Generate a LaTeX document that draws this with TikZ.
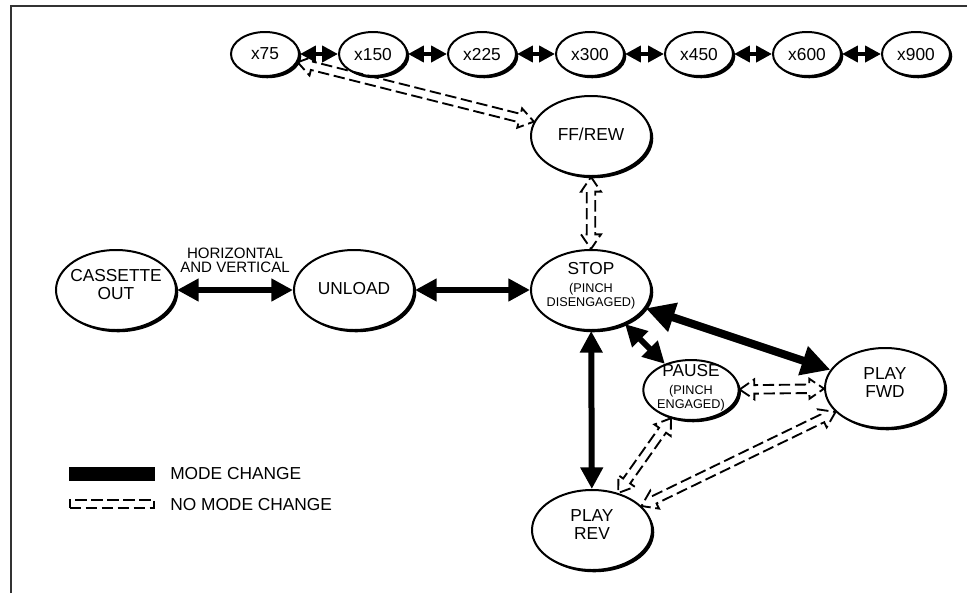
\documentclass[tikz,border=0pt]{standalone}
\usepackage{fontspec}
\setmainfont{Liberation Sans}
\usetikzlibrary{shapes.geometric,arrows.meta,calc,shadows}

\newcommand{\bigf}{\fontsize{13}{13.5}\selectfont}
\newcommand{\smallf}{\fontsize{9.5}{10.5}\selectfont}

% 破線の二重矢印
\newcommand{\dashlink}[2]{%
  \path (#1) -- (#2) coordinate[pos=0] (ds) coordinate[pos=1] (de);
  \draw [nochange] (ds)
    -- ($(ds)!11pt!(de)!7.5pt!90:(de)$) -- ($(ds)!11pt!(de)!3.2pt!90:(de)$)
    -- ($(de)!11pt!(ds)!3.2pt!-90:(ds)$) -- ($(de)!11pt!(ds)!7.5pt!-90:(ds)$)
    -- (de)
    -- ($(de)!11pt!(ds)!7.5pt!90:(ds)$) -- ($(de)!11pt!(ds)!3.2pt!90:(ds)$)
    -- ($(ds)!11pt!(de)!3.2pt!-90:(de)$) -- ($(ds)!11pt!(de)!7.5pt!-90:(de)$)
    -- cycle;
}

\tikzset{
  state/.style={ellipse, draw, line width=1.5pt, fill=white, align=center, font=\bigf,
    inner xsep=-12pt, inner ysep=-4pt, minimum width=90pt, minimum height=60pt, text depth=8pt,
    general shadow={fill=black, shadow xshift=1.7pt, shadow yshift=-1.7pt}},
  speed/.style={state, minimum width=51pt, minimum height=33pt, text depth=0pt,
    general shadow={fill=black, shadow xshift=1pt, shadow yshift=-1pt}},
  change/.style={line width=4.5pt, >={Triangle[length=0pt 3.6, width=0pt 3.6]}, <->},
  nochange/.style={line width=1.4pt, dash pattern=on 8.5pt off 3.5pt, line join=miter},
}

\begin{document}
\begin{tikzpicture} [x=0.75pt, y=-0.75pt]
     \useasboundingbox (0,0) rectangle (967,593);

     % 枠
     \draw [line width=1.6pt, black!80] (11,593) -- (11,6) -- (967,6);

     % 速度
     \node [speed] (x75) at (265,54) {x75};
     \node [speed] (x150) at (373,54) {x150};
     \node [speed] (x225) at (482,54) {x225};
     \node [speed] (x300) at (590,54) {x300};
     \node [speed] (x450) at (699,54) {x450};
     \node [speed] (x600) at (807,54) {x600};
     \node [speed] (x900) at (916,54) {x900};

     % 状態
     \node [state, text depth=3pt] (ffrew) at (591,136) {FF/REW};
     \node [state] (cassette) at (116,290) {CASSETTE\\OUT};
     \node [state, text depth=3pt] (unload) at (354,290) {UNLOAD};
     \node [state] (stop) at (591,290) {STOP\\\smallf (PINCH\\[-3pt]\smallf DISENGAGED)};
     \node [state, minimum width=71.5pt, minimum height=45pt, text depth=6pt] (pause) at (691,390) {PAUSE\\\smallf (PINCH\\[-3pt]\smallf ENGAGED)};
     \node [state] (playfwd) at (885,388) {PLAY\\FWD};
     \node [state] (playrev) at (592,530) {PLAY\\REV};

     % モード変化
     \foreach \a/\b in {x75/x150, x150/x225, x225/x300, x300/x450, x450/x600, x600/x900}
       \draw [change, line width=3.3pt] (\a) -- (\b);
     \draw [change] (cassette) -- node [midway, above=11pt, inner sep=0pt, align=center, font=\fontsize{11.3}{10.5}\selectfont] (hvnote) {HORIZONTAL\\AND VERTICAL} (unload);
     \draw [change] (unload) -- (stop);
     \draw [change, line width=6pt] (stop) -- (playfwd);
     \draw [change] (stop) -- (pause);
     \draw [change] (stop) -- (playrev);

     % モード変化なし
     \dashlink{x75}{ffrew}
     \dashlink{ffrew}{stop}
     \dashlink{pause}{playfwd}
     \dashlink{pause}{playrev}
     \dashlink{playfwd}{playrev}

     % 凡例
     \node [fill=black, inner sep=0pt, minimum width=64.5pt, minimum height=10.5pt] (keysolid) at (112,474) {};
     \node [draw, nochange, inner sep=0pt, minimum width=63.5pt, minimum height=5.8pt] (keydash) at (112,504) {};
     \node [anchor=west, inner sep=0pt, font=\bigf] (keysolidtext) at (170,474) {MODE CHANGE};
     \node [anchor=west, inner sep=0pt, font=\bigf] (keydashtext) at (170,505) {NO MODE CHANGE};
\end{tikzpicture}
\end{document}
